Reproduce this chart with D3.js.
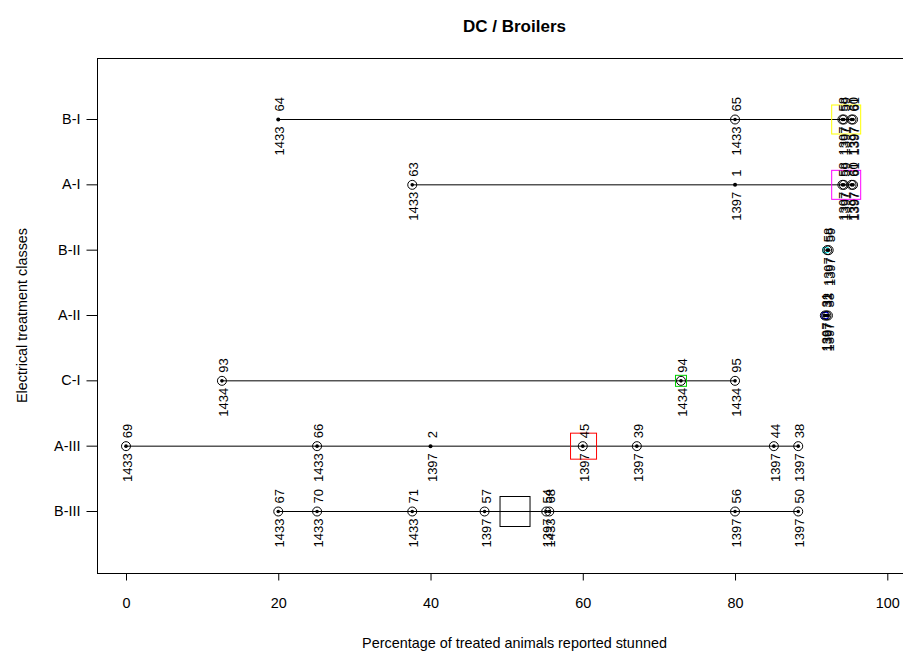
<!DOCTYPE html>
<html><head><meta charset="utf-8">
<script src="https://cdn.jsdelivr.net/npm/d3@7"></script>
<style>
body{margin:0;background:#fff;}
svg{display:block;font-family:"Liberation Sans",Arial,sans-serif;}
</style></head>
<body>
<svg id="chart" width="903" height="652"></svg>
<script>
// ---- data ----
const categories = ["B-I","A-I","B-II","A-II","C-I","A-III","B-III"];
const xTicks = [0,20,40,60,80,100];

// individual trials
const pointClass = ["B-I","B-I","B-I","B-I","B-I","B-I",
  "A-I","A-I","A-I","A-I","A-I","A-I",
  "B-II","B-II",
  "A-II","A-II","A-II",
  "C-I","C-I","C-I",
  "A-III","A-III","A-III","A-III","A-III","A-III","A-III",
  "B-III","B-III","B-III","B-III","B-III","B-III","B-III","B-III"];
const pointValue = [20,80,94.1,94.3,95.3,95.5,
  37.6,80,94.1,94.3,95.3,95.5,
  92.1,92.3,
  91.8,92.0,92.2,
  12.6,72.9,80,
  0,25.1,40,60,67.1,85.1,88.3,
  20,25.1,37.6,47.1,55.2,55.6,80,88.3];
const pointId = ["64","65","58","59","60","61",
  "63","1","58","59","60","61",
  "58","59",
  "31","32","33",
  "93","94","95",
  "69","66","2","45","39","44","38",
  "67","70","71","57","54","68","56","50"];
const pointGroup = ["1433","1433","1397","1397","1397","1397",
  "1433","1397","1397","1397","1397","1397",
  "1397","1397",
  "1397","1397","1397",
  "1434","1434","1434",
  "1433","1433","1397","1397","1397","1397","1397",
  "1433","1433","1433","1397","1397","1433","1397","1397"];
const pointRing = [false,true,true,true,true,true,
  true,false,true,true,true,true,
  true,true,
  true,true,true,
  true,true,true,
  true,true,false,true,true,true,true,
  true,true,true,true,true,true,true,true];

// class means (square size ~ weight)
const meanClass = ["B-I","A-I","B-II","A-II","C-I","A-III","B-III"];
const meanValue = [94.6,94.6,91.9,91.8,72.9,60.1,51.1];
const meanWeight = [29,29,5,6,11,26,30];

// ---- layout ----
const colors = {"B-I":"#ffff00","A-I":"#ff00ff","B-II":"#00ffff","A-II":"#0000ff","C-I":"#00cd00","A-III":"#ff0000","B-III":"#000000"};
const svg = d3.select("#chart");
const pLeft = 97, pRight = 932, pTop = 58, pBottom = 573;
const FONT = "Liberation Sans, Arial, sans-serif";

const x = d3.scaleLinear().domain([0,100]).range([126,887.3]);
const yBand = d3.scalePoint().domain(categories).range([119,511]);
const y = c => yBand(c);

// title
svg.append("text").attr("x",(pLeft+pRight)/2).attr("y",32).attr("text-anchor","middle")
  .attr("font-size",17).attr("font-weight","bold").text("DC / Broilers");

// frame
svg.append("rect").attr("x",pLeft+0.5).attr("y",pTop+0.5).attr("width",pRight-pLeft).attr("height",pBottom-pTop)
  .attr("fill","none").attr("stroke","#000");

// x axis
const xg = svg.append("g").attr("transform",`translate(0,${pBottom+0.5})`)
  .call(d3.axisBottom(x).tickValues(xTicks).tickSize(7).tickPadding(17).tickFormat(d3.format("d")));
xg.select(".domain").remove();
xg.selectAll("text").attr("font-size",14.4).attr("font-family",FONT).attr("fill","#000");

// y axis
const yg = svg.append("g").attr("transform",`translate(${pLeft+0.5},0)`)
  .call(d3.axisLeft(yBand).tickSize(11).tickPadding(6));
yg.select(".domain").remove();
yg.selectAll("text").attr("font-size",14.4).attr("font-family",FONT).attr("fill","#000");

// axis titles
svg.append("text").attr("x",(pLeft+pRight)/2).attr("y",648).attr("text-anchor","middle")
  .attr("font-size",14.4).text("Percentage of treated animals reported stunned");
svg.append("text").attr("transform",`translate(27,${(pTop+pBottom)/2}) rotate(-90)`).attr("text-anchor","middle")
  .attr("font-size",14.4).text("Electrical treatment classes");

// range lines per class
const pts = pointValue.map((v,i)=>({v, c:pointClass[i], id:pointId[i], g:pointGroup[i], ring:pointRing[i]}));
categories.forEach(c=>{
  const vs = pts.filter(p=>p.c===c).map(p=>p.v);
  svg.append("line").attr("x1",x(d3.min(vs))).attr("x2",x(d3.max(vs)))
    .attr("y1",y(c)+0.5).attr("y2",y(c)+0.5).attr("stroke","#000").attr("stroke-width",1);
});

// mean squares
const sz = d3.scaleLinear().domain([0,30]).range([0,30]);
meanClass.forEach((c,i)=>{
  const s = sz(meanWeight[i]);
  svg.append("rect").attr("x",x(meanValue[i])-s/2).attr("y",y(c)-s/2+0.5)
    .attr("width",s).attr("height",s).attr("fill","none").attr("stroke",colors[c]).attr("stroke-width",1);
});

// points
pts.forEach(p=>{
  const px = x(p.v), py = y(p.c)+0.5;
  if(p.ring) svg.append("circle").attr("cx",px).attr("cy",py).attr("r",4.5).attr("fill","none").attr("stroke","#000").attr("stroke-width",1);
  svg.append("circle").attr("cx",px).attr("cy",py).attr("r",p.ring?1.8:2).attr("fill","#000");
  svg.append("text").attr("transform",`translate(${px+1.5},${py-8}) rotate(-90)`).attr("dy","0.35em")
    .attr("text-anchor","start").attr("font-size",13).text(p.id);
  svg.append("text").attr("transform",`translate(${px+1.5},${py+7}) rotate(-90)`).attr("dy","0.35em")
    .attr("text-anchor","end").attr("font-size",13).text(p.g);
});
</script>
</body></html>
